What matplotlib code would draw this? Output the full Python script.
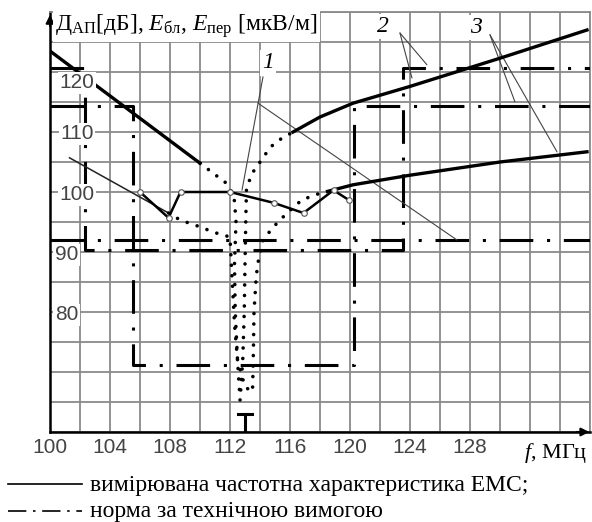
import numpy as np
import matplotlib.pyplot as plt
from matplotlib.lines import Line2D

plt.rcParams['font.family'] = ['Liberation Serif', 'DejaVu Serif']
plt.rcParams['mathtext.fontset'] = 'custom'
plt.rcParams['mathtext.rm'] = 'Liberation Serif'
plt.rcParams['mathtext.it'] = 'Liberation Serif:italic'

# axis labels
x_labels = [100, 104, 108, 112, 116, 120, 124, 128]
y_labels = [120, 110, 100, 90, 80]

# upper characteristic (curve 2): solid, dotted notch, solid
up1_f = [100, 110]
up1_db = [123.5, 104.8]
up_notch_f = [110, 111.9, 112.3, 112.4, 112.3, 112.35, 112.5, 112.67,
              112.85, 112.95, 113.0, 113.05, 113.1, 113.5, 114.0, 114.7, 115.3, 116.2]
up_notch_db = [104.8, 101.2, 98.5, 95, 88, 80, 72, 65.3,
               72, 80, 88, 95, 100.7, 103.2, 105, 107.5, 108.7, 110]
up2_f = [116.2, 118, 120.2, 124, 130, 135.8]
up2_db = [110, 112.5, 114.8, 117.6, 122.3, 127]

# lower characteristic (curve 3): thin left part, dotted notch, heavy right part
lo1_f = [101.3, 107.9]
lo1_db = [105.7, 96.5]
lo_notch_f = [107.9, 108.7, 110, 110.9, 112, 112.15, 112.3, 112.5, 113.0, 113.5,
              113.55, 113.6, 113.75, 113.9, 114.2, 114.9, 115.8, 116.8, 118, 118.5]
lo_notch_db = [96.5, 95.3, 94.2, 93.3, 92.5, 85, 78, 72, 67.5, 66.7,
               72, 80, 86, 88.7, 92, 94.2, 96.5, 98.7, 99.8, 100.1]
lo2_f = [118.5, 120.2, 124, 130, 135.8]
lo2_db = [100.1, 101.2, 102.8, 105, 106.7]

# measured EMC characteristic
meas_f = [106, 107.9, 108.7, 112, 114.9, 116.9, 118.9, 119.9]
meas_db = [100, 95.7, 100, 100, 98.2, 96.5, 100.3, 98.7]

# norms
norm1_f = [100, 136]
norm1_db = [92, 92]
norm2_f = [100, 102.33, 102.33, 123.53, 123.53, 136]
norm2_db = [120.7, 120.7, 90.3, 90.3, 120.7, 120.7]
norm3_f = [100, 105.53, 105.53, 120.25, 120.25, 136]
norm3_db = [114.3, 114.3, 71.2, 71.2, 114.3, 114.3]

# marker on the frequency axis
t_freq = 113.0
t_top = 63.0

num_font = ['Liberation Sans', 'DejaVu Sans']

fig = plt.figure(figsize=(5.92, 5.22), dpi=100)
ax = fig.add_axes([50 / 592, 90 / 522, 540 / 592, 420 / 522])
ax.set_xlim(100, 136)
ax.set_ylim(60, 130)

ax.set_xticks(np.arange(100, 137, 2))
ax.set_xticklabels([str(v) if v in x_labels else '' for v in range(100, 137, 2)],
                   family=num_font, fontsize=15, color='#444444')
ax.set_yticks(np.arange(60, 131, 5))
ax.tick_params(length=0, labelleft=False, pad=4)
ax.grid(True, color='#8a8a8a', lw=1.3)
ax.set_axisbelow(True)
for s in ['top', 'right']:
    ax.spines[s].set_color('#8a8a8a')
    ax.spines[s].set_linewidth(1.3)
for s in ['left', 'bottom']:
    ax.spines[s].set_linewidth(1.8)

# axis arrows
ax.annotate('', xy=(0, 1.0), xytext=(0, 0.96), xycoords='axes fraction',
            arrowprops=dict(arrowstyle='-|>', color='k', lw=1.5, mutation_scale=12))
ax.annotate('', xy=(1.004, 0), xytext=(0.97, 0), xycoords='axes fraction',
            arrowprops=dict(arrowstyle='-|>', color='k', lw=1.5, mutation_scale=12))

dash_dot = (0, (11, 4.5, 1, 4.5))
dotted = (0, (0.01, 2.9))

for f, db in [(norm1_f, norm1_db), (norm2_f, norm2_db), (norm3_f, norm3_db)]:
    ax.plot(f, db, color='k', lw=2.2, linestyle=dash_dot, zorder=3)

ax.plot(up1_f, up1_db, color='k', lw=2.4, zorder=4)
ax.plot(up_notch_f, up_notch_db, color='k', lw=2.6, linestyle=dotted,
        dash_capstyle='round', zorder=4)
ax.plot(up2_f, up2_db, color='k', lw=2.4, zorder=4)

ax.plot(lo1_f, lo1_db, color='#222222', lw=1.1, zorder=4)
ax.plot(lo_notch_f, lo_notch_db, color='k', lw=2.6, linestyle=dotted,
        dash_capstyle='round', zorder=4)
ax.plot(lo2_f, lo2_db, color='k', lw=2.4, zorder=4)

ax.plot(meas_f, meas_db, color='k', lw=1.8, marker='o', ms=4, mfc='white',
        mec='#555555', mew=0.8, zorder=5)

ax.plot([t_freq, t_freq], [60, t_top], color='k', lw=2.2, zorder=4)
ax.plot([t_freq - 0.45, t_freq + 0.45], [t_top, t_top], color='k', lw=2.2, zorder=4)

# value labels on the left of the plot area
y_pos = {120: (101.8, 118.2), 110: (101.8, 109.7), 100: (101.8, 99.5),
         90: (101.1, 89.5), 80: (101.1, 79.5)}
for v in y_labels:
    xx, yy = y_pos[v]
    ax.text(xx, yy, str(v), ha='center', va='center', fontsize=15, color='#444444',
            family=num_font, zorder=8, bbox=dict(fc='white', ec='none', pad=1.2))

ax.text(100.35, 127.6, r'Д$_{\mathrm{АП}}$[дБ], $E_{\mathrm{бл}}$, $E_{\mathrm{пер}}$ [мкВ/м]',
        ha='left', va='center', fontsize=17, zorder=8,
        bbox=dict(fc='white', ec='none', pad=1.5))

# curve numbers with leader lines
lead = dict(arrowstyle='-', color='#444444', lw=0.8, shrinkA=0, shrinkB=0)
box = dict(fc='white', ec='none', pad=1.5)
ax.text(114.53, 121.5, '1', style='italic', fontsize=17, ha='center', va='center',
        bbox=box, zorder=8)
ax.annotate('', xy=(112.8, 100.3), xytext=(114.2, 119.2), arrowprops=lead)
ax.annotate('', xy=(127.13, 92), xytext=(113.87, 114.8), arrowprops=lead)

ax.text(122.2, 127.6, '2', style='italic', fontsize=17, ha='center', va='center',
        bbox=box, zorder=8)
ax.annotate('', xy=(125.13, 121.2), xytext=(123.33, 126.5), arrowprops=lead)
ax.annotate('', xy=(124.13, 119.0), xytext=(123.33, 126.5), arrowprops=lead)

ax.text(128.4, 127.4, '3', style='italic', fontsize=17, ha='center', va='center',
        bbox=box, zorder=8)
ax.annotate('', xy=(131.0, 115.0), xytext=(129.33, 126.2), arrowprops=lead)
ax.annotate('', xy=(133.8, 106.7), xytext=(129.33, 126.2), arrowprops=lead)

fig.text(556 / 592, 1 - 453 / 522, r'$f$, МГц', ha='center', va='center', fontsize=16)

# legend below the chart
fig.add_artist(Line2D([8 / 592, 82 / 592], [1 - 484 / 522] * 2, color='k', lw=1.2))
fig.text(90 / 592, 1 - 485 / 522, 'вимірювана частотна характеристика ЕМС;',
         ha='left', va='center', fontsize=17)
fig.add_artist(Line2D([8 / 592, 82 / 592], [1 - 511 / 522] * 2, color='k', lw=1.2,
                      linestyle=(0, (11, 4, 1.5, 4))))
fig.text(90 / 592, 1 - 511 / 522, 'норма за технічною вимогою',
         ha='left', va='center', fontsize=17)

fig.savefig('out.png', dpi=100)
